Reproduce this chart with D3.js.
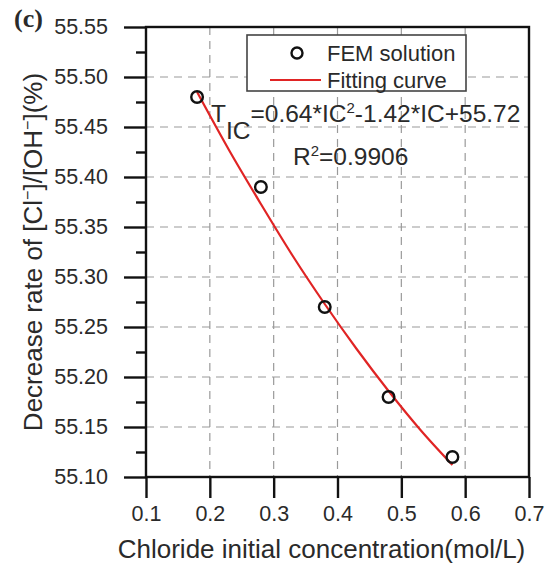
<!DOCTYPE html>
<html>
<head>
<meta charset="utf-8">
<script src="https://cdn.jsdelivr.net/npm/d3@7"></script>
<style>
  body { margin: 0; background: #fff; }
  text { font-family: "Liberation Sans", Arial, sans-serif; fill: #2a2a2a; }
</style>
</head>
<body>
<svg id="chart"></svg>
<script>
// FEM points
const femX = [0.18, 0.28, 0.38, 0.48, 0.58];
const femY = [55.48, 55.39, 55.27, 55.18, 55.12];

// fitting curve
const fitX = [0.18, 0.23, 0.28, 0.33, 0.38, 0.43, 0.48, 0.53, 0.58];
const fitY = [55.485, 55.427, 55.373, 55.321, 55.273, 55.228, 55.186, 55.147, 55.112];

const xTicks = [0.1, 0.2, 0.3, 0.4, 0.5, 0.6, 0.7];
const yTicks = [55.10, 55.15, 55.20, 55.25, 55.30, 55.35, 55.40, 55.45, 55.50, 55.55];
const yMinor = [55.125, 55.175, 55.225, 55.275, 55.325, 55.375, 55.425, 55.475, 55.525];

const width = 545, height = 567;
const margin = {top: 27, right: 16, bottom: 90, left: 146};

const svg = d3.select("#chart")
    .attr("width", width)
    .attr("height", height);

const x = d3.scaleLinear().domain([0.1, 0.7]).range([margin.left, width - margin.right]);
const y = d3.scaleLinear().domain([55.10, 55.55]).range([height - margin.bottom, margin.top]);

// dashed grid
svg.append("g")
    .selectAll("line")
    .data(xTicks.slice(1, -1))
    .enter().append("line")
    .attr("x1", d => x(d)).attr("x2", d => x(d))
    .attr("y1", y(55.55)).attr("y2", y(55.10))
    .attr("stroke", "#9a9a9a").attr("stroke-width", 1.2)
    .attr("stroke-dasharray", "8,6");

svg.append("g")
    .selectAll("line")
    .data(yTicks.slice(1, -1))
    .enter().append("line")
    .attr("x1", x(0.1)).attr("x2", x(0.7))
    .attr("y1", d => y(d)).attr("y2", d => y(d))
    .attr("stroke", "#9a9a9a").attr("stroke-width", 1.2)
    .attr("stroke-dasharray", "8,6");

// axes
const xAxis = svg.append("g")
    .attr("transform", `translate(0,${y(55.10)})`)
    .call(d3.axisBottom(x).tickValues(xTicks).tickSize(21).tickPadding(8).tickFormat(d3.format(".1f")));

const yAxis = svg.append("g")
    .attr("transform", `translate(${x(0.1)},0)`)
    .call(d3.axisLeft(y).tickValues(yTicks).tickSize(22).tickPadding(16).tickFormat(d3.format(".2f")));

svg.append("g")
    .attr("transform", `translate(${x(0.1)},0)`)
    .call(d3.axisLeft(y).tickValues(yMinor).tickSize(10).tickFormat(""))
    .select(".domain").remove();

[xAxis, yAxis].forEach(a => {
    a.select(".domain").remove();
    a.selectAll(".tick text").style("font-size", "21.5px").attr("fill", "#2a2a2a");
});
svg.selectAll(".tick line").attr("stroke", "#111").attr("stroke-width", 2.4);

// frame
svg.append("rect")
    .attr("x", x(0.1)).attr("y", y(55.55))
    .attr("width", x(0.7) - x(0.1))
    .attr("height", y(55.10) - y(55.55))
    .attr("fill", "none")
    .attr("stroke", "#111")
    .attr("stroke-width", 2.4);

// legend
const lg = svg.append("g");
lg.append("rect")
    .attr("x", 247).attr("y", 35)
    .attr("width", 219).attr("height", 56)
    .attr("fill", "#fff").attr("stroke", "#444").attr("stroke-width", 1.6);
lg.append("circle")
    .attr("cx", 297).attr("cy", 53).attr("r", 5.5)
    .attr("fill", "none").attr("stroke", "#111").attr("stroke-width", 2.4);
lg.append("text").attr("x", 327).attr("y", 61).style("font-size", "22px").text("FEM solution");
lg.append("line")
    .attr("x1", 270).attr("x2", 321).attr("y1", 80).attr("y2", 80)
    .attr("stroke", "#e02424").attr("stroke-width", 2.2);
lg.append("text").attr("x", 327).attr("y", 88).style("font-size", "22px").text("Fitting curve");

// fitted curve
const fit = fitX.map((d, i) => [d, fitY[i]]);
svg.append("path")
    .datum(fit)
    .attr("fill", "none")
    .attr("stroke", "#e02424")
    .attr("stroke-width", 2.2)
    .attr("d", d3.line().x(d => x(d[0])).y(d => y(d[1])).curve(d3.curveMonotoneX));

// FEM points
svg.append("g")
    .selectAll("circle")
    .data(femX.map((d, i) => [d, femY[i]]))
    .enter().append("circle")
    .attr("cx", d => x(d[0]))
    .attr("cy", d => y(d[1]))
    .attr("r", 5.8)
    .attr("fill", "none")
    .attr("stroke", "#111")
    .attr("stroke-width", 2.4);

// equation
const eq = svg.append("text").attr("x", 211).attr("y", 122).style("font-size", "24.5px");
eq.append("tspan").text("T");
eq.append("tspan").attr("dy", 17).text("IC");
eq.append("tspan").attr("dy", -17).text("=0.64*IC");
eq.append("tspan").attr("dy", -9).style("font-size", "15px").text("2");
eq.append("tspan").attr("dy", 9).text("-1.42*IC+55.72");

const r2 = svg.append("text").attr("x", 293).attr("y", 165).style("font-size", "24.5px");
r2.append("tspan").text("R");
r2.append("tspan").attr("dy", -9).style("font-size", "15px").text("2");
r2.append("tspan").attr("dy", 9).text("=0.9906");

// axis titles
svg.append("text")
    .attr("x", (x(0.1) + x(0.7)) / 2 - 16)
    .attr("y", 558)
    .attr("text-anchor", "middle")
    .style("font-size", "26px")
    .text("Chloride initial concentration(mol/L)");

const yt = svg.append("text")
    .attr("transform", `translate(42,${(y(55.10) + y(55.55)) / 2}) rotate(-90)`)
    .attr("text-anchor", "middle")
    .style("font-size", "26px");
yt.append("tspan").text("Decrease rate of [Cl");
yt.append("tspan").attr("dy", -9).style("font-size", "16px").text("−");
yt.append("tspan").attr("dy", 9).text("]/[OH");
yt.append("tspan").attr("dy", -9).style("font-size", "16px").text("−");
yt.append("tspan").attr("dy", 9).text("](%)");

// panel letter
svg.append("text")
    .attr("x", 14).attr("y", 27)
    .style("font-family", "'Liberation Serif', serif")
    .style("font-weight", "bold")
    .style("font-size", "26px")
    .attr("fill", "#111")
    .text("(c)");
</script>
</body>
</html>
